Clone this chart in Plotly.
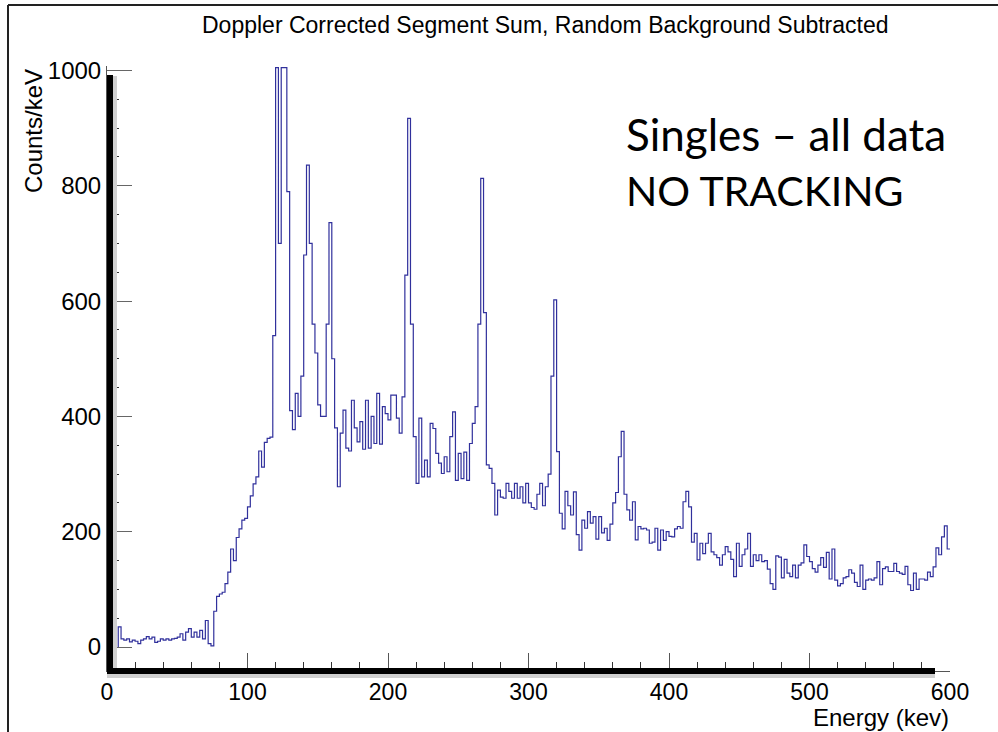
import plotly.graph_objects as go
import numpy as np

# Doppler corrected segment sum, 2 keV bins starting at 8 keV (counts per keV)
bin_start = 8
bin_width = 2
counts = [
    35, 14, 12, 14, 9, 12, 10, 6, 12, 14,
    18, 14, 17, 8, 10, 14, 12, 14, 12, 14,
    15, 17, 23, 12, 26, 32, 17, 26, 17, 29,
    14, 46, 6, 2, 62, 88, 92, 95, 110, 130,
    170, 150, 190, 205, 220, 223, 243, 262, 283, 295,
    340, 312, 355, 362, 364, 540, 1005, 700, 1005, 1005,
    790, 410, 377, 440, 400, 470, 680, 836, 700, 560,
    510, 420, 400, 400, 560, 736, 500, 380, 278, 371,
    411, 345, 340, 428, 380, 356, 391, 343, 428, 345,
    400, 353, 440, 352, 417, 405, 394, 437, 437, 397,
    371, 434, 645, 917, 560, 365, 284, 397, 295, 324,
    295, 388, 379, 336, 319, 301, 330, 304, 365, 408,
    289, 336, 292, 338, 289, 353, 388, 417, 560, 813,
    580, 316, 310, 284, 229, 272, 260, 258, 284, 270,
    258, 284, 258, 278, 250, 284, 250, 242, 239, 265,
    284, 245, 278, 300, 470, 602, 339, 232, 205, 270,
    245, 229, 269, 195, 168, 220, 206, 235, 215, 226,
    187, 226, 198, 206, 185, 213, 250, 268, 330, 374,
    265, 238, 220, 252, 186, 209, 205, 206, 203, 180,
    182, 206, 168, 203, 185, 200, 192, 191, 205, 209,
    206, 252, 270, 243, 182, 197, 151, 180, 162, 180,
    197, 165, 160, 155, 142, 160, 174, 165, 152, 122,
    180, 140, 160, 170, 197, 140, 160, 150, 160, 148,
    150, 135, 110, 100, 158, 156, 120, 152, 128, 122,
    142, 120, 142, 146, 177, 157, 148, 136, 130, 142,
    155, 138, 164, 118, 170, 116, 106, 110, 120, 122,
    134, 128, 112, 105, 142, 100, 116, 118, 116, 120,
    148, 108, 136, 139, 131, 131, 145, 131, 128, 126,
    140, 108, 98, 128, 100, 118, 118, 116, 130, 122,
    139, 172, 160, 191, 210, 170,
]

title_text = "Doppler Corrected Segment Sum, Random Background Subtracted"
x_title = "Energy (kev)"
y_title = "Counts/keV"
note_lines = ["Singles \u2013 all data", "NO TRACKING"]

W, H = 998, 732
L, R, T, B = 107, 48, 66, 61


def px_x(p):
    return (p - L) / (W - L - R)


def px_y(p):
    return (H - B - p) / (H - T - B)


edges = bin_start + bin_width * np.arange(len(counts) + 1)
xs = np.concatenate([[edges[0]], edges[:-1], [edges[-1]]])
ys = [0] + counts + [counts[-1]]

fig = go.Figure()
fig.add_trace(go.Scatter(x=xs, y=ys, mode="lines", line_shape="hv",
                         line=dict(color="#30309c", width=1.2),
                         showlegend=False, hoverinfo="skip"))

helv = "Liberation Sans, Arial, sans-serif"
fig.update_xaxes(range=[0, 600], showline=True, linecolor="#555", linewidth=1,
                 ticks="inside", ticklen=18, tickwidth=1, tickcolor="#555",
                 tick0=0, dtick=100, tickfont=dict(family=helv, size=23, color="black"),
                 minor=dict(ticks="inside", ticklen=9, dtick=20, tickcolor="#333", tickwidth=1),
                 showgrid=False, zeroline=False)
fig.update_yaxes(range=[-41.6, 1007.8], showline=True, linecolor="#555", linewidth=1,
                 ticks="inside", ticklen=25, tickwidth=1, tickcolor="#666",
                 tick0=0, dtick=200, tickfont=dict(family=helv, size=24, color="black"),
                 minor=dict(ticks="inside", ticklen=12, dtick=50, tickcolor="#333", tickwidth=1),
                 showgrid=False, zeroline=False)

shapes = [
    # thick black frame bars with soft shadow
    dict(type="rect", xref="paper", yref="paper", x0=px_x(113), x1=px_x(117),
         y0=px_y(674), y1=px_y(76), fillcolor="#d0d0d0", line_width=0, layer="above"),
    dict(type="rect", xref="paper", yref="paper", x0=px_x(107), x1=px_x(935),
         y0=px_y(678), y1=px_y(674), fillcolor="#d0d0d0", line_width=0, layer="above"),
    dict(type="rect", xref="paper", yref="paper", x0=px_x(107), x1=px_x(113),
         y0=px_y(674), y1=px_y(75), fillcolor="black", line_width=0, layer="above"),
    dict(type="rect", xref="paper", yref="paper", x0=px_x(107), x1=px_x(935),
         y0=px_y(674), y1=px_y(668), fillcolor="black", line_width=0, layer="above"),
    # outer slide frame
    dict(type="line", xref="paper", yref="paper", x0=px_x(8), x1=px_x(8),
         y0=px_y(5), y1=px_y(732), line=dict(color="#222", width=2)),
    dict(type="line", xref="paper", yref="paper", x0=px_x(8), x1=px_x(998),
         y0=px_y(5), y1=px_y(5), line=dict(color="#222", width=2)),
]

annotations = [
    dict(text=title_text, xref="paper", yref="paper", x=px_x(545), y=px_y(25),
         xanchor="center", yanchor="middle", showarrow=False,
         font=dict(family=helv, size=23, color="black")),
    dict(text=y_title, xref="paper", yref="paper", x=px_x(33), y=px_y(131),
         xanchor="center", yanchor="middle", textangle=-90, showarrow=False,
         font=dict(family=helv, size=24, color="black")),
    dict(text=x_title, xref="paper", yref="paper", x=px_x(951), y=px_y(717),
         xanchor="right", yanchor="middle", showarrow=False,
         font=dict(family=helv, size=24, color="black")),
    dict(text=note_lines[0], xref="paper", yref="paper", x=px_x(624), y=px_y(134),
         xanchor="left", yanchor="middle", showarrow=False,
         font=dict(family="Lato, sans-serif", size=44, color="black")),
    dict(text=note_lines[1], xref="paper", yref="paper", x=px_x(624), y=px_y(190),
         xanchor="left", yanchor="middle", showarrow=False,
         font=dict(family="Lato, sans-serif", size=41, color="black")),
]

fig.update_layout(width=W, height=H, margin=dict(l=L, r=R, t=T, b=B),
                  plot_bgcolor="white", paper_bgcolor="white",
                  shapes=shapes, annotations=annotations)

# page body has an 8px default margin; drop it so the figure sits at the window origin
fig.write_html("out.html", config={"displayModeBar": False},
               post_script="document.body.style.margin='0';")
